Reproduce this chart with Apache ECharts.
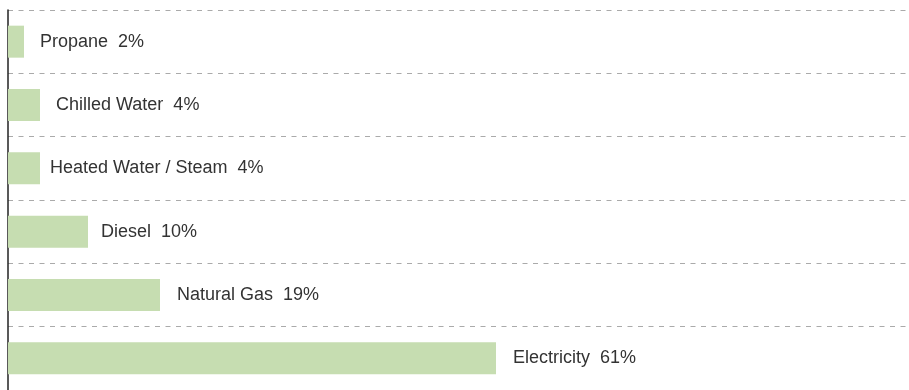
<!DOCTYPE html>
<html><head><meta charset="utf-8">
<script src="https://cdn.jsdelivr.net/npm/echarts@6/dist/echarts.min.js"></script>
<style>html,body{margin:0;padding:0;background:#fff}#c{width:909px;height:390px}</style>
</head><body><div id="c"></div>
<script>
const categories = ['Propane', 'Chilled Water', 'Heated Water / Steam', 'Diesel', 'Natural Gas', 'Electricity'];
const values = [2, 4, 4, 10, 19, 61];

// label gap after each bar (style only)
const labelGap = {'Propane': 16, 'Chilled Water': 16, 'Heated Water / Steam': 10, 'Diesel': 13, 'Natural Gas': 17, 'Electricity': 17};

const chart = echarts.init(document.getElementById('c'), null, {renderer: 'canvas'});
chart.setOption({
  animation: false,
  grid: {left: 8, right: 0, top: 10, bottom: -3, containLabel: false},
  xAxis: {
    type: 'value', min: 0, max: 112.625,
    show: false
  },
  yAxis: {
    type: 'category', data: categories, inverse: true,
    axisLine: {show: true, lineStyle: {color: '#222', width: 1.5}},
    axisTick: {show: false},
    axisLabel: {show: false},
    splitLine: {show: true, lineStyle: {color: '#aaa', width: 1, type: [5, 5.5]}}
  },
  series: [{
    type: 'bar',
    data: values.map((v, i) => ({value: v, label: {distance: labelGap[categories[i]]}})),
    barWidth: 32,
    itemStyle: {color: '#c6ddb1'},
    label: {
      show: true, position: 'right', distance: 16,
      formatter: p => p.name + '  ' + p.value + '%',
      color: '#333', fontSize: 18, fontFamily: 'Liberation Sans, Arial, sans-serif'
    }
  }]
});
</script></body></html>
